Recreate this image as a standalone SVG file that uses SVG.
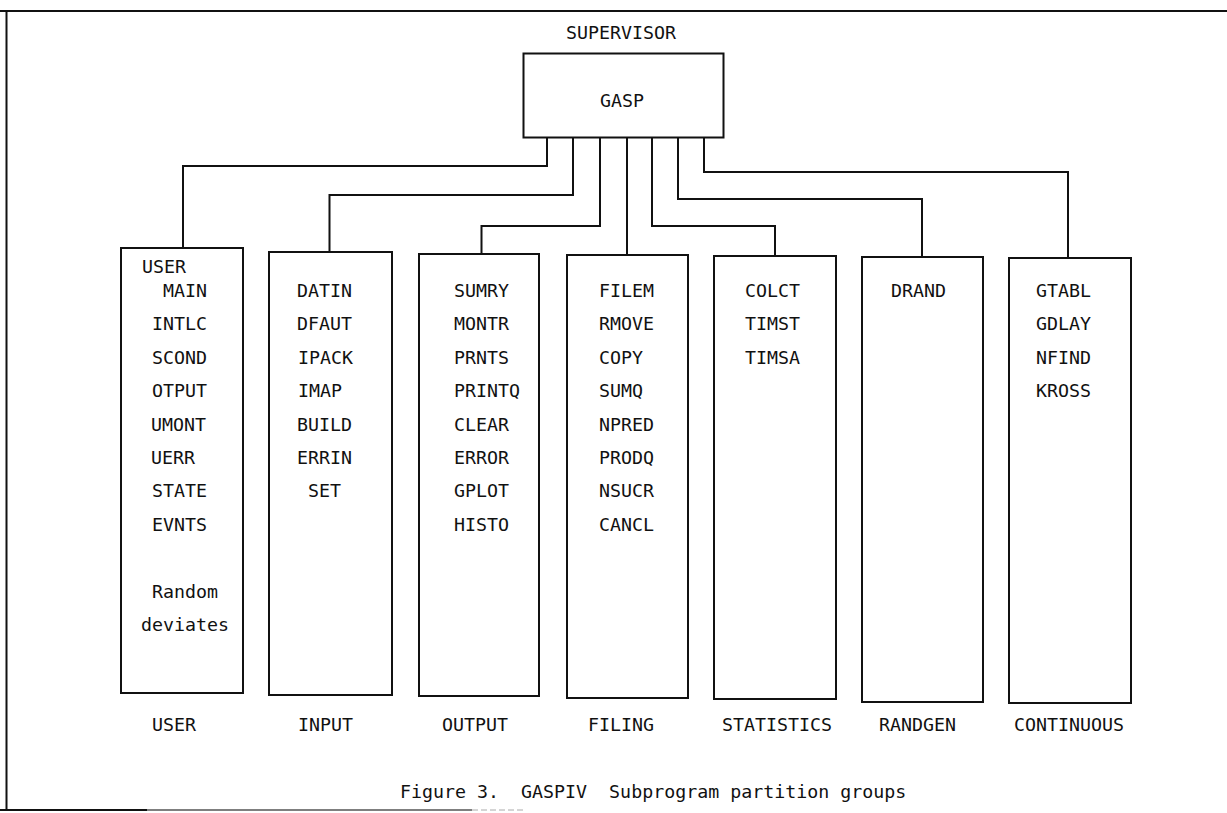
<svg xmlns="http://www.w3.org/2000/svg" width="1227" height="813" viewBox="0 0 1227 813">
<style>
.b{fill:none;stroke:#111;stroke-width:2}
.c{fill:none;stroke:#111;stroke-width:2;stroke-linejoin:miter}
text{font-family:"DejaVu Sans Mono","Liberation Mono",monospace;font-size:18.3px;fill:#111}
</style>
<rect width="1227" height="813" fill="#fff"/>
<g id="frame">
<line x1="0" y1="11" x2="1227" y2="11" class="b"/>
<line x1="6.5" y1="11" x2="6.5" y2="810" class="b"/>
<line x1="0" y1="810" x2="147" y2="810" class="b"/>
<line x1="147" y1="810" x2="472" y2="810" stroke="#555" stroke-width="1.5"/>
<line x1="472" y1="810" x2="523" y2="810" stroke="#aaa" stroke-width="1" stroke-dasharray="6 3"/>
</g>
<g id="supervisor">
<text x="566" y="39">SUPERVISOR</text>
<rect x="523.5" y="53.5" width="200" height="84" class="b"/>
<text x="600" y="107">GASP</text>
</g>
<g id="connectors">
<polyline class="c" points="547,137 547,166 183,166 183,248"/>
<polyline class="c" points="573,137 573,195 329.5,195 329.5,252"/>
<polyline class="c" points="600,137 600,226 481.5,226 481.5,254"/>
<polyline class="c" points="627,137 627,255"/>
<polyline class="c" points="652,137 652,226 775,226 775,256"/>
<polyline class="c" points="678,137 678,199 922,199 922,257"/>
<polyline class="c" points="704,137 704,172 1068,172 1068,258"/>
</g>
<g id="user">
<rect x="121" y="248" width="122" height="445" class="b"/>
<text x="142" y="273">USER</text>
<text x="163" y="297">MAIN</text>
<text x="152" y="330.4">INTLC</text>
<text x="152" y="363.8">SCOND</text>
<text x="152" y="397.2">OTPUT</text>
<text x="151" y="430.6">UMONT</text>
<text x="151" y="464">UERR</text>
<text x="152" y="497.4">STATE</text>
<text x="152" y="530.8">EVNTS</text>
<text x="152" y="597.6">Random</text>
<text x="141" y="631">deviates</text>
<text x="152" y="731">USER</text>
</g>
<g id="input">
<rect x="269" y="252" width="123" height="443" class="b"/>
<text x="297" y="297">DATIN</text>
<text x="297" y="330.4">DFAUT</text>
<text x="298" y="363.8">IPACK</text>
<text x="298" y="397.2">IMAP</text>
<text x="297" y="430.6">BUILD</text>
<text x="297" y="464">ERRIN</text>
<text x="308" y="497.4">SET</text>
<text x="298" y="731">INPUT</text>
</g>
<g id="output">
<rect x="419" y="254" width="120" height="442" class="b"/>
<text x="454" y="297">SUMRY</text>
<text x="454" y="330.4">MONTR</text>
<text x="454" y="363.8">PRNTS</text>
<text x="454" y="397.2">PRINTQ</text>
<text x="454" y="430.6">CLEAR</text>
<text x="454" y="464">ERROR</text>
<text x="454" y="497.4">GPLOT</text>
<text x="454" y="530.8">HISTO</text>
<text x="442" y="731">OUTPUT</text>
</g>
<g id="filing">
<rect x="567" y="255" width="121" height="443" class="b"/>
<text x="599" y="297">FILEM</text>
<text x="599" y="330.4">RMOVE</text>
<text x="599" y="363.8">COPY</text>
<text x="599" y="397.2">SUMQ</text>
<text x="599" y="430.6">NPRED</text>
<text x="599" y="464">PRODQ</text>
<text x="599" y="497.4">NSUCR</text>
<text x="599" y="530.8">CANCL</text>
<text x="588" y="731">FILING</text>
</g>
<g id="statistics">
<rect x="714" y="256" width="122" height="443" class="b"/>
<text x="745" y="297">COLCT</text>
<text x="745" y="330.4">TIMST</text>
<text x="745" y="363.8">TIMSA</text>
<text x="722" y="731">STATISTICS</text>
</g>
<g id="randgen">
<rect x="862" y="257" width="121" height="445" class="b"/>
<text x="891" y="297">DRAND</text>
<text x="879" y="731">RANDGEN</text>
</g>
<g id="continuous">
<rect x="1009" y="258" width="122" height="445" class="b"/>
<text x="1036" y="297">GTABL</text>
<text x="1036" y="330.4">GDLAY</text>
<text x="1036" y="363.8">NFIND</text>
<text x="1036" y="397.2">KROSS</text>
<text x="1014" y="731">CONTINUOUS</text>
</g>
<g id="caption">
<text x="400" y="798" xml:space="preserve">Figure 3.  GASPIV  Subprogram partition groups</text>
</g>
</svg>
